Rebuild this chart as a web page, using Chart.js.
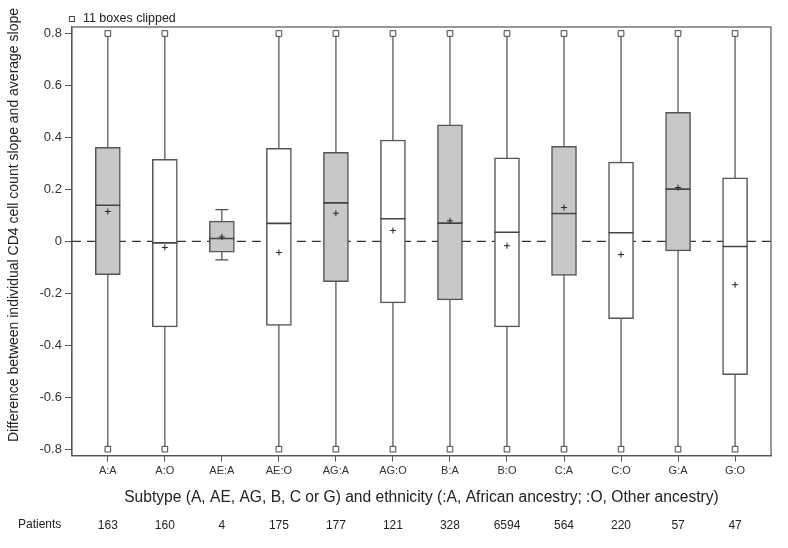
<!DOCTYPE html>
<html>
<head>
<meta charset="utf-8">
<script src="https://cdn.jsdelivr.net/npm/chart.js@4.4.0/dist/chart.umd.min.js"></script>
<style>
  html, body { margin: 0; padding: 0; background: #fff; }
  #wrap { width: 788px; height: 548px; }
</style>
</head>
<body>
<div id="wrap"><canvas id="boxChart" width="788" height="548"></canvas></div>
<script>
const groups = ['A:A', 'A:O', 'AE:A', 'AE:O', 'AG:A', 'AG:O', 'B:A', 'B:O', 'C:A', 'C:O', 'G:A', 'G:O'];
const patients = [163, 160, 4, 175, 177, 121, 328, 6594, 564, 220, 57, 47];

const q1 = [-0.128, -0.329, -0.042, -0.324, -0.155, -0.237, -0.225, -0.329, -0.131, -0.298, -0.037, -0.513];
const median = [0.139, -0.006, 0.011, 0.069, 0.148, 0.087, 0.070, 0.035, 0.107, 0.033, 0.201, -0.020];
const q3 = [0.362, 0.316, 0.078, 0.358, 0.343, 0.390, 0.448, 0.321, 0.366, 0.305, 0.497, 0.244];
const mean = [0.115, -0.024, 0.017, -0.043, 0.108, 0.042, 0.079, -0.017, 0.130, -0.051, 0.207, -0.167];
// whisker ends; clipped ones sit at the axis limit of +/-0.8
const whiskerLow = [-0.8, -0.8, -0.071, -0.8, -0.8, -0.8, -0.8, -0.8, -0.8, -0.8, -0.8, -0.8];
const whiskerHigh = [0.8, 0.8, 0.122, 0.8, 0.8, 0.8, 0.8, 0.8, 0.8, 0.8, 0.8, 0.8];
const clipped = [true, true, false, true, true, true, true, true, true, true, true, true];

const yTitle = 'Difference between individual CD4 cell count slope and average slope';
const xTitle = 'Subtype (A, AE, AG, B, C or G) and ethnicity (:A, African ancestry; :O, Other ancestry)';
const clipNote = '11 boxes clipped';
const refValue = 0;

const X_MIN = -0.63, X_MAX = 11.63;
const Y_MIN = -0.825, Y_MAX = 0.825;
const FONT = "'Liberation Sans', Arial, Helvetica, sans-serif";
const INK = '#4d4d4d';

function whiskerPoints() {
  const pts = [];
  groups.forEach((g, i) => {
    pts.push({ x: i, y: whiskerLow[i] });
    pts.push({ x: i, y: whiskerHigh[i] });
    pts.push({ x: i, y: null });
  });
  return pts;
}

function capPoints() {
  const pts = [];
  groups.forEach((g, i) => {
    if (!clipped[i]) {
      pts.push({ x: i, y: whiskerLow[i] });
      pts.push({ x: i, y: whiskerHigh[i] });
    }
  });
  return pts;
}

function clipPoints() {
  const pts = [];
  groups.forEach((g, i) => {
    if (clipped[i]) {
      pts.push({ x: i, y: whiskerLow[i] });
      pts.push({ x: i, y: whiskerHigh[i] });
    }
  });
  return pts;
}

const framePlugin = {
  id: 'frame',
  beforeDatasetsDraw(chart) {
    const { ctx, chartArea, scales } = chart;
    const y = scales.y.getPixelForValue(refValue);
    ctx.save();
    ctx.strokeStyle = '#333';
    ctx.lineWidth = 1.2;
    ctx.setLineDash([9, 6]);
    ctx.beginPath();
    ctx.moveTo(chartArea.left, y);
    ctx.lineTo(chartArea.right, y);
    ctx.stroke();
    ctx.restore();
  },
  afterDraw(chart) {
    const { ctx, chartArea, scales } = chart;
    ctx.save();
    ctx.strokeStyle = '#555';
    ctx.lineWidth = 1.2;
    ctx.strokeRect(chartArea.left, chartArea.top, chartArea.right - chartArea.left, chartArea.bottom - chartArea.top);

    // clipped note above the frame
    ctx.lineWidth = 1;
    ctx.strokeStyle = '#444';
    ctx.fillStyle = '#fff';
    ctx.fillRect(chartArea.left - 2.5, 16.5, 5, 5);
    ctx.strokeRect(chartArea.left - 2.5, 16.5, 5, 5);
    ctx.fillStyle = '#222';
    ctx.font = '12.5px ' + FONT;
    ctx.textBaseline = 'middle';
    ctx.textAlign = 'left';
    ctx.fillText(clipNote, chartArea.left + 11, 19);

    // row label for the patient counts
    const x2 = scales.x2;
    ctx.font = '12px ' + FONT;
    ctx.textBaseline = 'top';
    ctx.fillText('Patients', 18, x2.top + x2.options.ticks.padding);

    // y title sits a little above the middle of the axis, as in the source
    ctx.translate(14, 225);
    ctx.rotate(-Math.PI / 2);
    ctx.font = '14px ' + FONT;
    ctx.textAlign = 'center';
    ctx.textBaseline = 'middle';
    ctx.fillText(yTitle, 0, 0);
    ctx.restore();
  }
};

new Chart(document.getElementById('boxChart'), {
  type: 'bar',
  data: {
    datasets: [
      {
        type: 'scatter',
        label: 'whiskers',
        data: whiskerPoints(),
        showLine: true,
        spanGaps: false,
        borderColor: INK,
        borderWidth: 1.2,
        pointRadius: 0,
        order: 10
      },
      {
        type: 'bar',
        label: 'boxes',
        data: groups.map((g, i) => ({ x: i, y: [q1[i], q3[i]] })),
        backgroundColor: groups.map(g => g.endsWith(':A') ? '#c8c8c8' : '#ffffff'),
        borderColor: '#555',
        borderWidth: 1.5,
        borderSkipped: false,
        barThickness: 25,
        grouped: false,
        order: 5
      },
      {
        type: 'scatter',
        label: 'caps',
        data: capPoints(),
        pointStyle: 'line',
        pointRadius: 6.5,
        borderColor: INK,
        borderWidth: 1.3,
        order: 3
      },
      {
        type: 'scatter',
        label: 'median',
        data: groups.map((g, i) => ({ x: i, y: median[i] })),
        pointStyle: 'line',
        pointRadius: 12.5,
        borderColor: '#444',
        borderWidth: 1.6,
        order: 2
      },
      {
        type: 'scatter',
        label: 'mean',
        data: groups.map((g, i) => ({ x: i, y: mean[i] })),
        pointStyle: 'cross',
        pointRadius: 3,
        borderColor: '#222',
        borderWidth: 1,
        order: 1
      },
      {
        type: 'scatter',
        label: clipNote,
        data: clipPoints(),
        pointStyle: 'rect',
        pointRadius: 4,
        backgroundColor: '#fff',
        borderColor: '#444',
        borderWidth: 1,
        order: 1
      }
    ]
  },
  options: {
    responsive: false,
    animation: false,
    layout: { padding: { top: 27, right: 17, left: 36.5, bottom: 7 } },
    plugins: {
      legend: { display: false },
      tooltip: { enabled: false }
    },
    scales: {
      x: {
        type: 'linear',
        position: 'bottom',
        offset: false,
        min: X_MIN,
        max: X_MAX,
        grid: { offset: false, drawOnChartArea: false, drawTicks: true, tickLength: 6, color: '#555' },
        border: { color: '#555', width: 1.2 },
        ticks: {
          stepSize: 1,
          includeBounds: false,
          autoSkip: false,
          maxRotation: 0,
          padding: 3,
          color: '#333',
          font: { family: FONT, size: 11 },
          callback: v => groups[v]
        },
        title: {
          display: true,
          text: xTitle,
          color: '#222',
          font: { family: FONT, size: 15.6 },
          padding: { top: 7, bottom: 4 }
        }
      },
      x2: {
        type: 'linear',
        position: 'bottom',
        offset: false,
        min: X_MIN,
        max: X_MAX,
        grid: { offset: false, display: false, drawTicks: false },
        border: { display: false },
        ticks: {
          stepSize: 1,
          includeBounds: false,
          autoSkip: false,
          maxRotation: 0,
          padding: 8,
          color: '#222',
          font: { family: FONT, size: 12 },
          callback: v => patients[v]
        }
      },
      y: {
        type: 'linear',
        min: Y_MIN,
        max: Y_MAX,
        grid: { drawOnChartArea: false, drawTicks: true, tickLength: 7, color: '#555' },
        border: { color: '#555', width: 1.2 },
        ticks: {
          stepSize: 0.2,
          includeBounds: false,
          padding: 3,
          color: '#333',
          font: { family: FONT, size: 13 },
          callback: v => Math.abs(v) < 1e-9 ? '0' : v.toFixed(1)
        }
      }
    }
  },
  plugins: [framePlugin]
});
</script>
</body>
</html>
